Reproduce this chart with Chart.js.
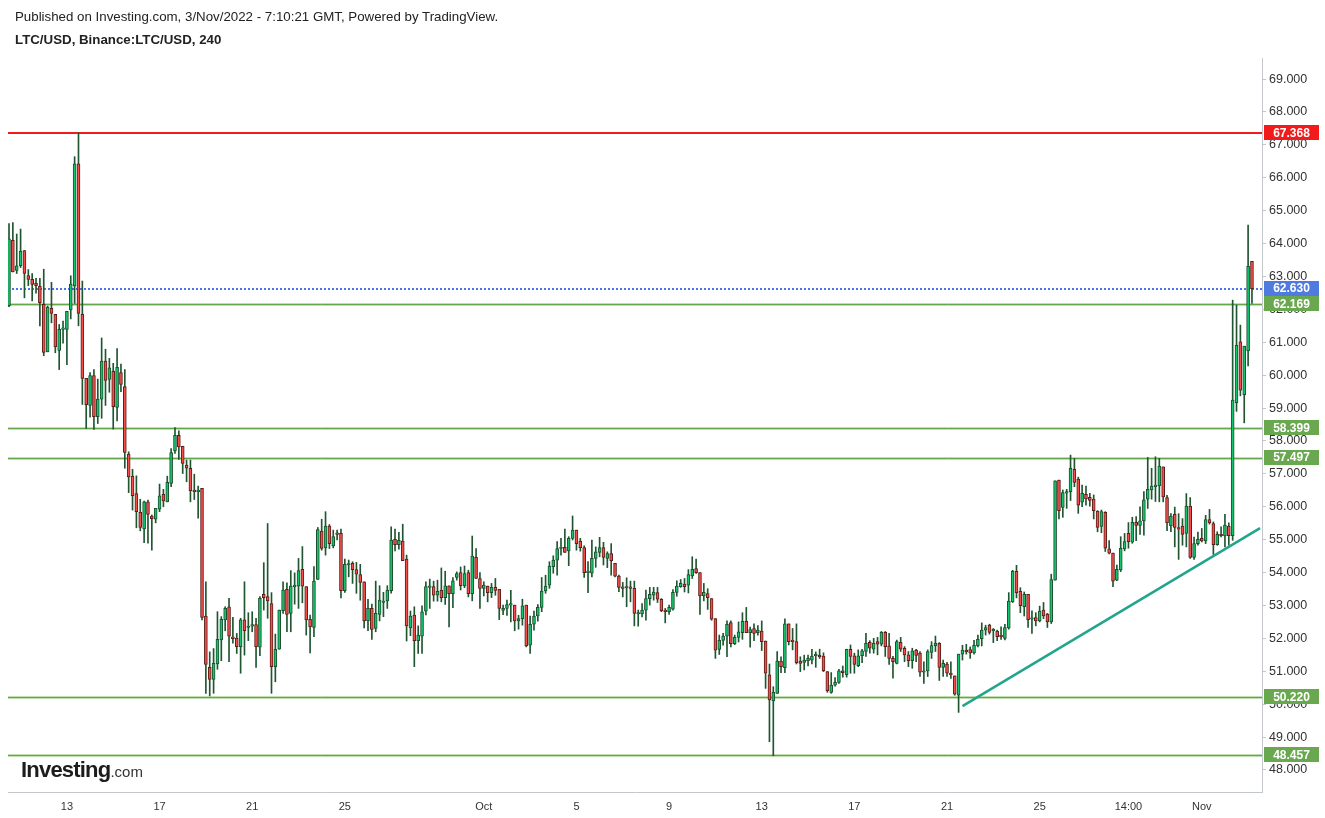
<!DOCTYPE html>
<html><head><meta charset="utf-8">
<script src="https://cdn.jsdelivr.net/npm/chart.js@4.4.0/dist/chart.umd.min.js"></script>
<style>
html,body{margin:0;padding:0;background:#fff;}
#wrap{position:relative;width:1325px;height:818px;overflow:hidden;background:#fff;}
#c{position:absolute;left:0;top:0;}
.t1{position:absolute;left:15px;top:9px;font:13.3px "Liberation Sans",Arial,sans-serif;color:#222;white-space:nowrap;}
.t2{position:absolute;left:15px;top:32px;font:bold 13.3px "Liberation Sans",Arial,sans-serif;color:#222;white-space:nowrap;}
.logo{position:absolute;left:21px;top:757px;font:bold 22px "Liberation Sans",Arial,sans-serif;color:#1c1c1c;letter-spacing:-0.8px;white-space:nowrap;}
.logo span{font-weight:normal;font-size:15px;color:#333;letter-spacing:0;}
</style></head>
<body>
<div id="wrap">
<canvas id="c" width="1325" height="818"></canvas>
<div class="t1">Published on Investing.com, 3/Nov/2022 - 7:10:21 GMT, Powered by TradingView.</div>
<div class="t2">LTC/USD, Binance:LTC/USD, 240</div>
<div class="logo">Investing<span>.com</span></div>
</div>
<script>
const opens=[62.11,64.10,63.18,63.33,63.79,63.03,62.91,62.79,62.70,62.15,60.71,62.03,61.85,60.75,61.39,61.39,61.98,62.71,66.42,61.85,59.90,59.08,59.99,58.74,59.27,60.43,59.87,60.12,59.02,60.08,59.65,57.60,56.93,56.40,55.83,55.33,56.15,55.72,55.62,55.93,56.38,56.15,56.71,57.70,58.17,57.84,57.27,57.17,56.51,56.46,56.56,52.68,51.12,50.75,51.22,51.95,52.56,52.96,52.05,52.01,51.75,52.56,52.33,52.37,52.42,51.73,53.34,53.27,53.06,51.14,51.67,52.84,53.49,52.76,53.57,53.59,54.10,53.57,52.58,52.33,53.79,55.26,54.75,55.41,54.81,55.19,55.19,53.45,54.23,54.28,54.09,53.94,53.72,52.53,52.91,52.30,52.73,53.09,53.14,53.45,55.01,54.85,54.96,54.41,52.32,52.71,51.93,52.07,52.83,53.55,53.57,53.31,53.46,53.24,53.60,53.36,53.85,54.00,53.60,54.00,53.36,54.46,53.82,53.52,53.59,53.39,53.55,53.49,52.85,52.91,53.01,53.01,52.53,52.60,53.01,51.79,52.43,52.68,52.94,53.44,53.62,54.18,54.38,54.73,54.77,54.66,55.04,55.29,54.96,54.76,54.00,53.98,54.43,54.61,54.76,54.43,54.58,54.28,53.89,53.55,53.53,53.55,53.52,52.74,52.74,52.86,53.21,53.31,53.39,53.19,52.86,52.81,52.89,53.40,53.57,53.65,53.62,53.90,54.12,54.00,53.29,53.36,53.21,52.60,51.66,51.94,52.07,52.48,51.84,52.03,52.17,52.52,52.17,52.30,52.17,52.22,51.92,50.89,50.10,50.33,51.31,51.11,52.44,51.93,51.90,51.31,51.27,51.32,51.34,51.47,51.49,51.46,50.99,50.36,50.58,50.66,51.01,50.90,51.67,51.47,51.17,51.47,51.60,51.88,51.67,51.90,51.82,52.18,51.77,51.39,51.24,51.88,51.70,51.50,51.32,51.64,51.55,50.97,51.01,51.57,51.78,51.85,51.12,51.22,50.93,50.86,50.27,51.52,51.64,51.66,51.56,51.77,51.99,52.25,52.40,52.23,52.22,52.10,52.00,52.32,53.11,54.04,53.43,52.96,53.34,52.58,52.63,52.53,52.86,52.74,52.50,53.77,56.81,55.98,56.41,56.46,57.14,56.84,56.14,56.38,56.29,56.23,55.87,55.40,55.83,54.72,54.59,53.77,54.08,54.72,55.19,54.92,55.53,55.43,55.57,56.23,56.51,56.61,56.63,57.21,56.28,55.42,55.77,55.37,55.41,55.19,56.02,54.46,54.88,55.04,54.96,55.61,55.49,54.85,55.16,55.11,55.41,55.12,59.16,61.01,59.41,60.74,63.46];
const highs=[64.61,64.64,64.29,64.44,63.79,63.21,63.09,62.94,62.94,63.22,62.10,62.82,61.85,61.54,61.64,61.94,63.02,66.64,67.37,62.86,59.90,60.08,60.17,59.88,61.13,60.79,60.51,60.36,60.81,60.34,60.17,57.67,57.14,56.94,56.23,56.17,56.20,55.75,55.95,56.69,56.53,56.93,57.77,58.41,58.31,57.84,57.42,57.42,56.99,56.63,56.56,53.72,51.59,51.69,52.81,52.66,52.96,53.22,52.64,52.15,52.61,53.72,52.78,52.81,52.61,53.27,54.30,55.49,53.39,52.13,52.86,53.72,53.69,54.06,53.99,54.43,54.79,53.57,52.71,54.18,55.37,55.62,55.85,55.46,55.29,55.29,55.32,54.41,54.38,54.33,54.31,54.25,53.72,53.19,53.04,53.74,53.60,53.40,53.60,55.39,55.32,55.22,55.47,54.53,52.83,52.96,52.38,52.99,53.72,53.80,53.74,53.77,54.14,54.04,53.60,53.85,54.02,54.17,54.20,54.07,55.11,54.73,54.00,53.72,53.59,53.67,53.82,53.49,53.01,53.16,53.46,53.01,52.70,53.19,53.01,52.68,52.83,53.03,53.85,53.92,54.33,54.51,54.94,55.04,55.32,55.09,55.72,55.29,55.04,54.81,54.33,54.99,54.78,55.07,54.92,54.63,54.88,54.28,53.92,53.70,53.84,53.74,53.74,52.86,53.06,53.47,53.55,53.55,53.55,53.21,52.91,53.01,53.48,53.75,53.79,53.82,54.09,54.48,54.41,54.00,53.67,53.51,53.21,52.60,52.10,52.15,52.53,52.53,52.10,52.50,52.78,52.94,52.34,52.44,52.39,52.53,51.92,51.22,50.53,51.60,51.44,52.59,52.44,52.30,52.44,51.44,51.49,51.49,51.67,51.59,51.67,51.56,50.99,50.96,50.81,51.06,51.16,51.67,51.80,51.55,51.65,51.67,52.15,51.93,52.00,52.03,52.21,52.21,52.15,51.45,51.95,52.03,51.75,51.60,51.70,51.67,51.60,51.29,51.65,51.90,52.07,51.87,51.34,51.27,51.29,50.86,51.52,51.79,51.82,51.74,51.94,52.10,52.47,52.40,52.43,52.30,52.25,52.35,52.43,53.39,54.07,54.22,53.54,53.41,53.34,52.84,52.78,52.98,53.09,52.76,53.95,56.79,56.81,56.51,56.53,57.57,57.47,56.90,56.66,56.63,56.41,56.36,55.88,55.90,55.85,54.97,54.59,54.23,55.09,55.19,55.52,55.68,55.70,56.00,56.46,57.50,57.17,57.52,57.47,57.21,56.35,55.79,55.99,55.79,55.64,56.40,56.28,55.08,55.23,55.34,55.74,55.92,55.54,55.24,55.39,55.77,55.51,62.28,62.13,61.52,60.88,64.56,63.46];
const lows=[62.08,63.14,63.09,63.27,62.35,62.72,62.26,62.49,61.50,60.59,60.71,61.59,60.68,60.17,60.97,60.32,61.71,62.18,61.50,59.11,58.38,58.72,58.35,58.53,58.69,59.08,59.48,58.36,58.61,59.50,57.17,56.43,55.90,55.36,55.27,54.91,54.89,54.68,55.51,55.85,56.00,56.15,56.61,57.62,57.44,57.01,56.76,56.15,56.22,55.65,52.56,50.33,50.25,50.33,51.06,51.32,52.23,51.29,51.85,51.54,50.94,51.49,51.93,52.20,51.12,51.47,52.86,52.61,50.33,50.68,51.67,52.76,52.20,52.20,53.04,52.91,53.08,52.10,51.56,52.05,53.79,54.68,54.53,54.73,54.75,54.99,53.23,53.40,53.87,53.67,53.37,53.16,52.32,52.23,51.97,52.20,52.53,52.66,52.91,53.37,54.66,54.71,54.36,51.92,52.08,51.14,51.54,51.54,52.71,52.91,53.13,53.13,53.11,53.03,52.35,52.93,53.77,53.47,53.54,53.26,53.14,53.82,52.91,53.29,53.11,53.24,53.31,52.57,52.72,52.70,52.50,52.23,52.28,52.40,51.74,51.54,52.25,52.52,52.81,53.37,53.52,53.98,53.92,54.53,54.61,54.21,54.99,54.68,54.65,53.85,53.39,53.87,54.16,54.48,54.23,54.15,53.92,53.87,53.42,53.26,52.96,53.11,52.38,52.37,52.65,52.55,53.01,53.16,53.09,52.81,52.47,52.73,52.86,53.28,53.55,53.41,53.38,53.82,53.97,52.73,53.14,52.88,52.55,51.39,51.51,51.79,51.44,51.74,51.81,51.89,51.97,52.17,51.73,51.93,52.10,51.63,50.48,48.86,48.43,50.33,50.96,50.96,51.80,51.65,51.22,50.99,51.04,51.16,51.22,51.12,51.39,50.99,50.36,50.33,50.55,50.63,50.82,50.82,50.94,50.94,51.14,51.26,51.45,51.55,51.55,51.50,51.77,51.45,51.21,50.79,51.22,51.60,51.29,51.14,51.09,51.29,50.84,50.63,50.84,51.39,51.60,50.72,50.84,50.84,50.78,50.27,49.75,51.34,51.52,51.39,51.52,51.74,51.77,52.10,52.13,51.87,51.93,51.97,51.95,52.28,53.09,53.23,52.78,52.68,52.33,52.15,52.38,52.50,52.60,52.33,52.45,53.77,55.63,55.68,55.95,56.19,56.61,55.80,56.00,56.05,56.02,55.63,55.24,55.21,54.64,54.57,53.57,53.75,54.03,54.66,54.74,54.89,54.97,55.16,55.14,55.95,56.23,56.16,56.15,56.15,55.27,55.24,54.78,54.40,54.83,54.78,54.43,54.40,54.83,54.93,54.88,55.47,54.55,54.83,55.08,54.78,54.83,54.98,58.90,59.37,58.55,60.28,62.18];
const closes=[64.14,63.14,63.32,63.76,63.09,62.91,62.76,62.72,62.20,60.69,62.06,61.88,60.86,61.39,61.39,61.94,62.77,66.42,61.88,59.90,59.10,59.99,58.74,59.27,60.43,59.84,60.22,59.04,60.24,59.72,57.65,56.91,56.34,55.85,55.37,56.15,55.77,55.64,55.95,56.33,56.18,56.74,57.65,58.17,57.82,57.32,57.17,56.49,56.46,56.51,52.64,51.21,50.75,51.24,51.97,52.58,52.91,52.07,51.99,51.75,52.56,52.23,52.37,52.42,51.75,53.22,53.24,53.14,51.14,51.67,52.86,53.47,52.73,53.59,53.57,54.06,53.59,52.56,52.35,53.74,55.31,54.73,55.41,54.88,55.09,55.16,53.45,54.25,54.25,54.09,53.95,53.70,52.53,52.91,52.27,52.76,53.16,53.11,53.47,54.99,54.85,54.98,54.36,52.38,52.68,51.93,52.10,52.81,53.57,53.57,53.31,53.43,53.24,53.60,53.36,53.75,53.97,53.60,53.97,53.36,54.50,53.82,53.52,53.62,53.39,53.55,53.46,52.91,52.91,53.03,53.01,52.53,52.60,52.99,51.77,52.43,52.68,52.94,53.44,53.59,54.20,54.38,54.73,54.77,54.61,55.04,55.29,54.88,54.76,54.00,54.00,54.43,54.63,54.76,54.46,54.58,54.36,53.89,53.55,53.52,53.53,53.52,52.76,52.74,52.86,53.21,53.34,53.41,53.19,52.84,52.81,52.94,53.40,53.59,53.67,53.57,53.94,54.10,54.00,53.29,53.40,53.24,52.58,51.64,51.94,52.07,52.43,51.84,52.03,52.20,52.52,52.17,52.27,52.15,52.25,51.90,50.94,50.13,50.36,51.31,51.14,52.44,51.90,51.90,51.26,51.24,51.34,51.39,51.46,51.47,51.44,51.02,50.41,50.58,50.66,51.01,50.96,51.67,51.45,51.21,51.47,51.62,51.85,51.70,51.85,51.82,52.18,51.75,51.39,51.29,51.90,51.67,51.50,51.32,51.62,51.48,50.97,51.01,51.60,51.78,51.85,51.12,51.24,50.94,50.90,50.30,51.52,51.64,51.59,51.56,51.79,51.97,52.25,52.33,52.18,52.23,52.05,52.05,52.33,53.13,54.04,53.39,52.99,53.34,52.57,52.58,52.53,52.83,52.68,52.50,53.79,56.79,55.88,56.43,56.46,57.17,56.74,56.05,56.41,56.24,56.19,55.88,55.37,55.85,54.74,54.59,53.74,54.10,54.74,54.94,54.94,55.53,55.43,55.57,56.21,56.53,56.63,56.66,57.24,56.30,55.51,55.72,55.37,55.32,55.16,56.02,54.46,54.88,55.01,54.96,55.61,55.52,54.85,55.16,55.12,55.44,55.12,59.24,60.91,59.54,60.88,63.31,62.63];

// x-axis tick labels (candle index -> label)
const tickIdx=[15,39,63,87,123,147,171,195,219,243,267,290,309];
const tickLabels=['13','17','21','25','Oct','5','9','13','17','21','25','14:00','Nov'];
const yTicks=[48,49,50,51,52,53,54,55,56,57,58,59,60,61,62,63,64,65,66,67,68,69];

const resistanceLevel=67.368;
const supportLevels=[62.169,58.399,57.497,50.220,48.457];
const lastPrice=62.630;
const trendX=[247.0,324.1];
const trendY=[49.94,55.35];

const idx=opens.map((_,i)=>i);
const up=idx.map(i=>closes[i]>=opens[i]);

function hLine(ctx,a,py){ctx.beginPath();ctx.moveTo(a.left,py);ctx.lineTo(a.right,py);ctx.stroke();}
function tag(ctx,a,py,val,bg){
  const x=a.right+2,w=55,h=15;
  ctx.fillStyle=bg;ctx.fillRect(x,Math.round(py-h/2),w,h);
  ctx.fillStyle='#fff';ctx.font='bold 12px "Liberation Sans", Arial, sans-serif';
  ctx.textAlign='center';ctx.textBaseline='middle';
  ctx.fillText(val.toFixed(3),x+w/2,py+0.5);
}
const levelPlugin={
  id:'levels',
  beforeDatasetsDraw(chart){
    const {ctx,chartArea:a,scales:{y}}=chart;
    ctx.save();
    supportLevels.forEach(v=>{
      const py=Math.round(y.getPixelForValue(v))+0.5;
      ctx.strokeStyle='rgba(140,195,110,0.55)';ctx.lineWidth=3;hLine(ctx,a,py);
      ctx.strokeStyle='#66a64b';ctx.lineWidth=1;hLine(ctx,a,py);
    });
    const ry=Math.round(y.getPixelForValue(resistanceLevel));
    ctx.strokeStyle='#f21b1b';ctx.lineWidth=2;hLine(ctx,a,ry);
    const by=Math.round(y.getPixelForValue(lastPrice));
    ctx.setLineDash([2,2]);ctx.strokeStyle='#1f50f2';ctx.lineWidth=1.6;hLine(ctx,a,by);
    ctx.restore();
  },
  afterDraw(chart){
    const {ctx,chartArea:a,scales:{y}}=chart;
    ctx.save();
    tag(ctx,a,y.getPixelForValue(resistanceLevel),resistanceLevel,'#f21b1b');
    supportLevels.forEach(v=>tag(ctx,a,y.getPixelForValue(v),v,'#6aa84f'));
    tag(ctx,a,y.getPixelForValue(lastPrice),lastPrice,'#4f7be0');
    ctx.restore();
  }
};

new Chart(document.getElementById('c'),{
  type:'bar',
  data:{datasets:[
    {label:'wick',data:idx.map(i=>({x:i,y:[lows[i],highs[i]]})),backgroundColor:'#1f5631',borderWidth:0,barThickness:1,grouped:false,order:2},
    {label:'body',data:idx.map(i=>({x:i,y:[opens[i],closes[i]]})),backgroundColor:up.map(u=>u?'#12c46c':'#f24e4a'),borderColor:up.map(u=>u?'#1c4f2d':'#5c1d18'),borderWidth:1,borderSkipped:false,barThickness:3,minBarLength:1.5,grouped:false,order:1},
    {type:'line',label:'trend',data:[{x:trendX[0],y:trendY[0]},{x:trendX[1],y:trendY[1]}],borderColor:'#22a48d',borderWidth:2.5,pointRadius:0,order:0}
  ]},
  options:{
    responsive:false,animation:false,
    layout:{padding:{left:8,top:58,right:0,bottom:0}},
    plugins:{legend:{display:false},tooltip:{enabled:false}},
    scales:{
      x:{type:'linear',min:-0.26,max:324.6,offset:false,
        grid:{display:false},border:{display:true,color:'#c4c7cc'},
        afterBuildTicks:s=>{s.ticks=tickIdx.map(v=>({value:v}));},
        ticks:{autoSkip:false,maxRotation:0,padding:0,color:'#333',font:{size:11,family:'"Liberation Sans", Arial, sans-serif'},
          callback:v=>{const k=tickIdx.indexOf(v);return k>=0?tickLabels[k]:'';}},
        afterFit:s=>{s.height=26;}},
      y:{position:'right',min:47.33,max:69.64,
        grid:{drawOnChartArea:false,drawTicks:true,tickLength:4,color:'#c4c7cc'},
        border:{display:true,color:'#c4c7cc'},
        afterBuildTicks:s=>{s.ticks=yTicks.map(v=>({value:v}));},
        ticks:{padding:3,color:'#333',font:{size:12.5,family:'"Liberation Sans", Arial, sans-serif'},callback:v=>Number(v).toFixed(3)},
        afterFit:s=>{s.width=63;}}
    }
  },
  plugins:[levelPlugin]
});
</script>
</body></html>
